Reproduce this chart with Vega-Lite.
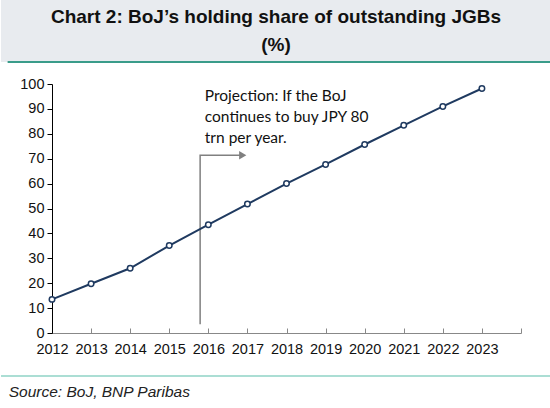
{
  "$schema": "https://vega.github.io/schema/vega-lite/v6.json",
  "padding": 0,
  "spacing": 13,
  "background": "white",
  "config": {"view": {"stroke": null}, "axis": {"grid": false}},
  "datasets": {
    "series": [
      {"year": 2012, "share": 13.5},
      {"year": 2013, "share": 19.8},
      {"year": 2014, "share": 26.0},
      {"year": 2015, "share": 35.1},
      {"year": 2016, "share": 43.5},
      {"year": 2017, "share": 51.8},
      {"year": 2018, "share": 60.0},
      {"year": 2019, "share": 67.7},
      {"year": 2020, "share": 75.7},
      {"year": 2021, "share": 83.4},
      {"year": 2022, "share": 91.0},
      {"year": 2023, "share": 98.2}
    ],
    "arrowPath": [
      {"step": 1, "year": 2015.79, "share": 3.5},
      {"step": 2, "year": 2015.79, "share": 71.4},
      {"step": 3, "year": 2016.85, "share": 71.4}
    ],
    "arrowHead": [{"year": 2016.88, "share": 71.4}],
    "note": [{"t": ["Projection: If the BoJ", "continues  to buy JPY 80", "trn per year."], "year": 2015.91, "share": 95.0}]
  },
  "vconcat": [
    {
      "width": 499,
      "height": 62,
      "layer": [
        {
          "data": {"values": [{"a": 0}]},
          "mark": {"type": "rect", "color": "#e8ebef"},
          "encoding": {
            "x": {"datum": 0, "type": "quantitative", "scale": {"domain": [0.0927, 1]}, "axis": null},
            "x2": {"datum": 1},
            "y": {"datum": 0, "type": "quantitative", "scale": {"domain": [0, 1]}, "axis": null},
            "y2": {"datum": 1}
          }
        },
        {
          "data": {"values": [
            {"row": 1, "t": "Chart 2: BoJ’s holding share of outstanding JGBs"},
            {"row": 2, "t": "(%)"}
          ]},
          "mark": {"type": "text", "font": "Liberation Sans", "fontWeight": "bold", "fontSize": 19, "color": "#111111", "align": "center", "baseline": "middle"},
          "encoding": {
            "text": {"field": "t"},
            "x": {"datum": 0.5, "type": "quantitative", "scale": {"domain": [0.0927, 1]}, "axis": null},
            "y": {"field": "row", "type": "ordinal", "scale": {"type": "point", "padding": 0.62}, "axis": null}
          }
        },
        {
          "data": {"values": [{"a": 0}]},
          "mark": {"type": "rule", "color": "#3a9c8a", "strokeWidth": 2},
          "encoding": {
            "x": {"datum": 0.012, "type": "quantitative", "scale": {"domain": [0.0927, 1]}, "axis": null},
            "x2": {"datum": 1},
            "y": {"datum": 0, "type": "quantitative", "scale": {"domain": [0, 1]}, "axis": null}
          }
        }
      ],
      "resolve": {"scale": {"y": "independent", "x": "independent"}}
    },
    {
      "width": 469,
      "height": 249,
      "encoding": {
        "x": {
          "field": "year", "type": "quantitative",
          "scale": {"domain": [2012, 2024], "nice": false, "zero": false},
          "axis": {
            "title": null,
            "values": [2012, 2013, 2014, 2015, 2016, 2017, 2018, 2019, 2020, 2021, 2022, 2023, 2024],
            "format": "d",
            "labelExpr": "datum.value == 2024 ? '' : datum.label",
            "domainColor": "#888888",
            "tickColor": "#888888",
            "tickSize": -5,
            "labelPadding": 14,
            "labelFlush": false,
            "labelFont": "Liberation Sans",
            "labelFontSize": 14.5,
            "labelColor": "#111111",
            "labelOverlap": false
          }
        },
        "y": {
          "field": "share", "type": "quantitative",
          "scale": {"domain": [0, 100], "nice": false},
          "axis": {
            "title": null,
            "values": [0, 10, 20, 30, 40, 50, 60, 70, 80, 90, 100],
            "domainColor": "#000000",
            "tickColor": "#000000",
            "tickSize": 5,
            "labelPadding": 3,
            "labelFlush": false,
            "labelFont": "Liberation Sans",
            "labelFontSize": 14.5,
            "labelColor": "#111111",
            "labelOverlap": false,
            "minExtent": 51
          }
        }
      },
      "layer": [
        {
          "data": {"name": "arrowPath"},
          "mark": {"type": "line", "color": "#808080", "strokeWidth": 1.5},
          "encoding": {"order": {"field": "step"}}
        },
        {
          "data": {"name": "arrowHead"},
          "mark": {"type": "point", "shape": "triangle-right", "filled": true, "color": "#808080", "size": 70, "opacity": 1}
        },
        {
          "data": {"name": "note"},
          "mark": {"type": "text", "font": "Lato", "fontSize": 15.5, "color": "#111111", "align": "left", "baseline": "middle", "lineHeight": 21},
          "encoding": {"text": {"field": "t"}}
        },
        {
          "data": {"name": "series"},
          "mark": {"type": "line", "color": "#1f3a60", "strokeWidth": 2}
        },
        {
          "data": {"name": "series"},
          "mark": {"type": "point", "filled": true, "fill": "white", "stroke": "#1f3a60", "strokeWidth": 1.5, "size": 30, "opacity": 1}
        }
      ]
    },
    {
      "width": 499,
      "height": 40,
      "layer": [
        {
          "data": {"values": [{"a": 0}]},
          "mark": {"type": "rule", "color": "#8fd3c6", "strokeWidth": 1.5},
          "encoding": {
            "x": {"datum": 0.0, "type": "quantitative", "scale": {"domain": [0.0927, 1]}, "axis": null},
            "x2": {"datum": 1},
            "y": {"datum": 0.825, "type": "quantitative", "scale": {"domain": [0, 1]}, "axis": null}
          }
        },
        {
          "data": {"values": [{"t": "Source: BoJ, BNP Paribas"}]},
          "mark": {"type": "text", "font": "Liberation Sans", "fontStyle": "italic", "fontSize": 15.5, "color": "#222222", "align": "left", "baseline": "middle"},
          "encoding": {
            "text": {"field": "t"},
            "x": {"datum": 0.014, "type": "quantitative", "scale": {"domain": [0.0927, 1]}, "axis": null},
            "y": {"datum": 0.425, "type": "quantitative", "scale": {"domain": [0, 1]}, "axis": null}
          }
        }
      ]
    }
  ]
}
